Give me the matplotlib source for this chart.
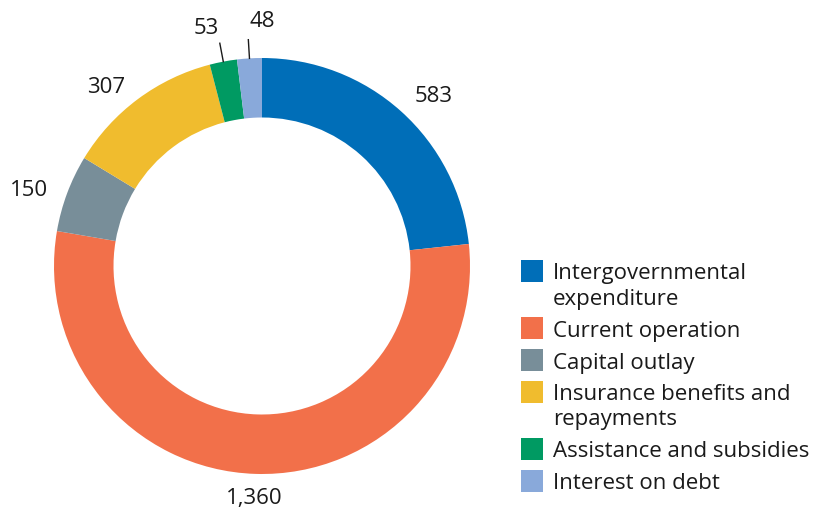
import matplotlib.pyplot as plt
import numpy as np
from matplotlib.patches import Rectangle

plt.rcParams["font.family"] = ["Open Sans", "DejaVu Sans"]

categories = [
    "Intergovernmental\nexpenditure",
    "Current operation",
    "Capital outlay",
    "Insurance benefits and\nrepayments",
    "Assistance and subsidies",
    "Interest on debt",
]
values = [583, 1360, 150, 307, 53, 48]
value_labels = ["583", "1,360", "150", "307", "53", "48"]
colors = ["#006eb8", "#f2704a", "#788e99", "#f0bc2e", "#009a62", "#89a9da"]

W, H = 817, 510
CX, CY = 262, H - 267
R_OUT, R_IN = 208, 148.5
INK = "#1a1a1a"
FS = 16

fig = plt.figure(figsize=(W / 100, H / 100), dpi=100)
ax = fig.add_axes([0, 0, 1, 1])

wedges, _ = ax.pie(
    values,
    colors=colors,
    startangle=90,
    counterclock=False,
    center=(CX, CY),
    radius=R_OUT,
    wedgeprops=dict(width=R_OUT - R_IN, linewidth=0),
)
ax.set_xlim(0, W)
ax.set_ylim(0, H)
ax.set_aspect("equal")
ax.axis("off")

# value labels around the ring; small slices get a leader line
total = sum(values)
for w, txt, v in zip(wedges, value_labels, values):
    mid_deg = ((w.theta1 + w.theta2) / 2) % 360
    mid = np.deg2rad(mid_deg)
    if v / total > 0.04:
        c = np.cos(mid)
        ha = "left" if c > 0.2 else ("right" if c < -0.2 else "center")
        r = R_OUT * (1.1 if ha != "center" else 1.115)
        dy = -4 if ha == "right" else 0
        ax.text(CX + r * c, CY + r * np.sin(mid) + dy, txt,
                ha=ha, va="center", fontsize=FS, color=INK)
    else:
        x0, y0 = CX + R_OUT * np.cos(mid), CY + R_OUT * np.sin(mid)
        x1, y1 = CX + R_OUT * 1.09 * np.cos(mid), CY + R_OUT * 1.09 * np.sin(mid)
        ax.plot([x0, x1], [y0, y1], color=INK, lw=1)
        shift = 2.5 if mid_deg > 95 else -3.5
        r = R_OUT * 1.18
        a = np.deg2rad(mid_deg + shift)
        ax.text(CX + r * np.cos(a), CY + r * np.sin(a), txt,
                ha="center", va="center", fontsize=FS, color=INK)

# legend drawn by hand so the swatch sits on the first text line
y = 272
for label, c in zip(categories, colors):
    ax.add_patch(Rectangle((521, H - y - 11), 22, 22, color=c, lw=0))
    for line in label.split("\n"):
        ax.text(553, H - y - 2, line, ha="left", va="center", fontsize=FS, color=INK)
        y += 25
    y += 7

fig.savefig("out.png", dpi=100, facecolor="white")
